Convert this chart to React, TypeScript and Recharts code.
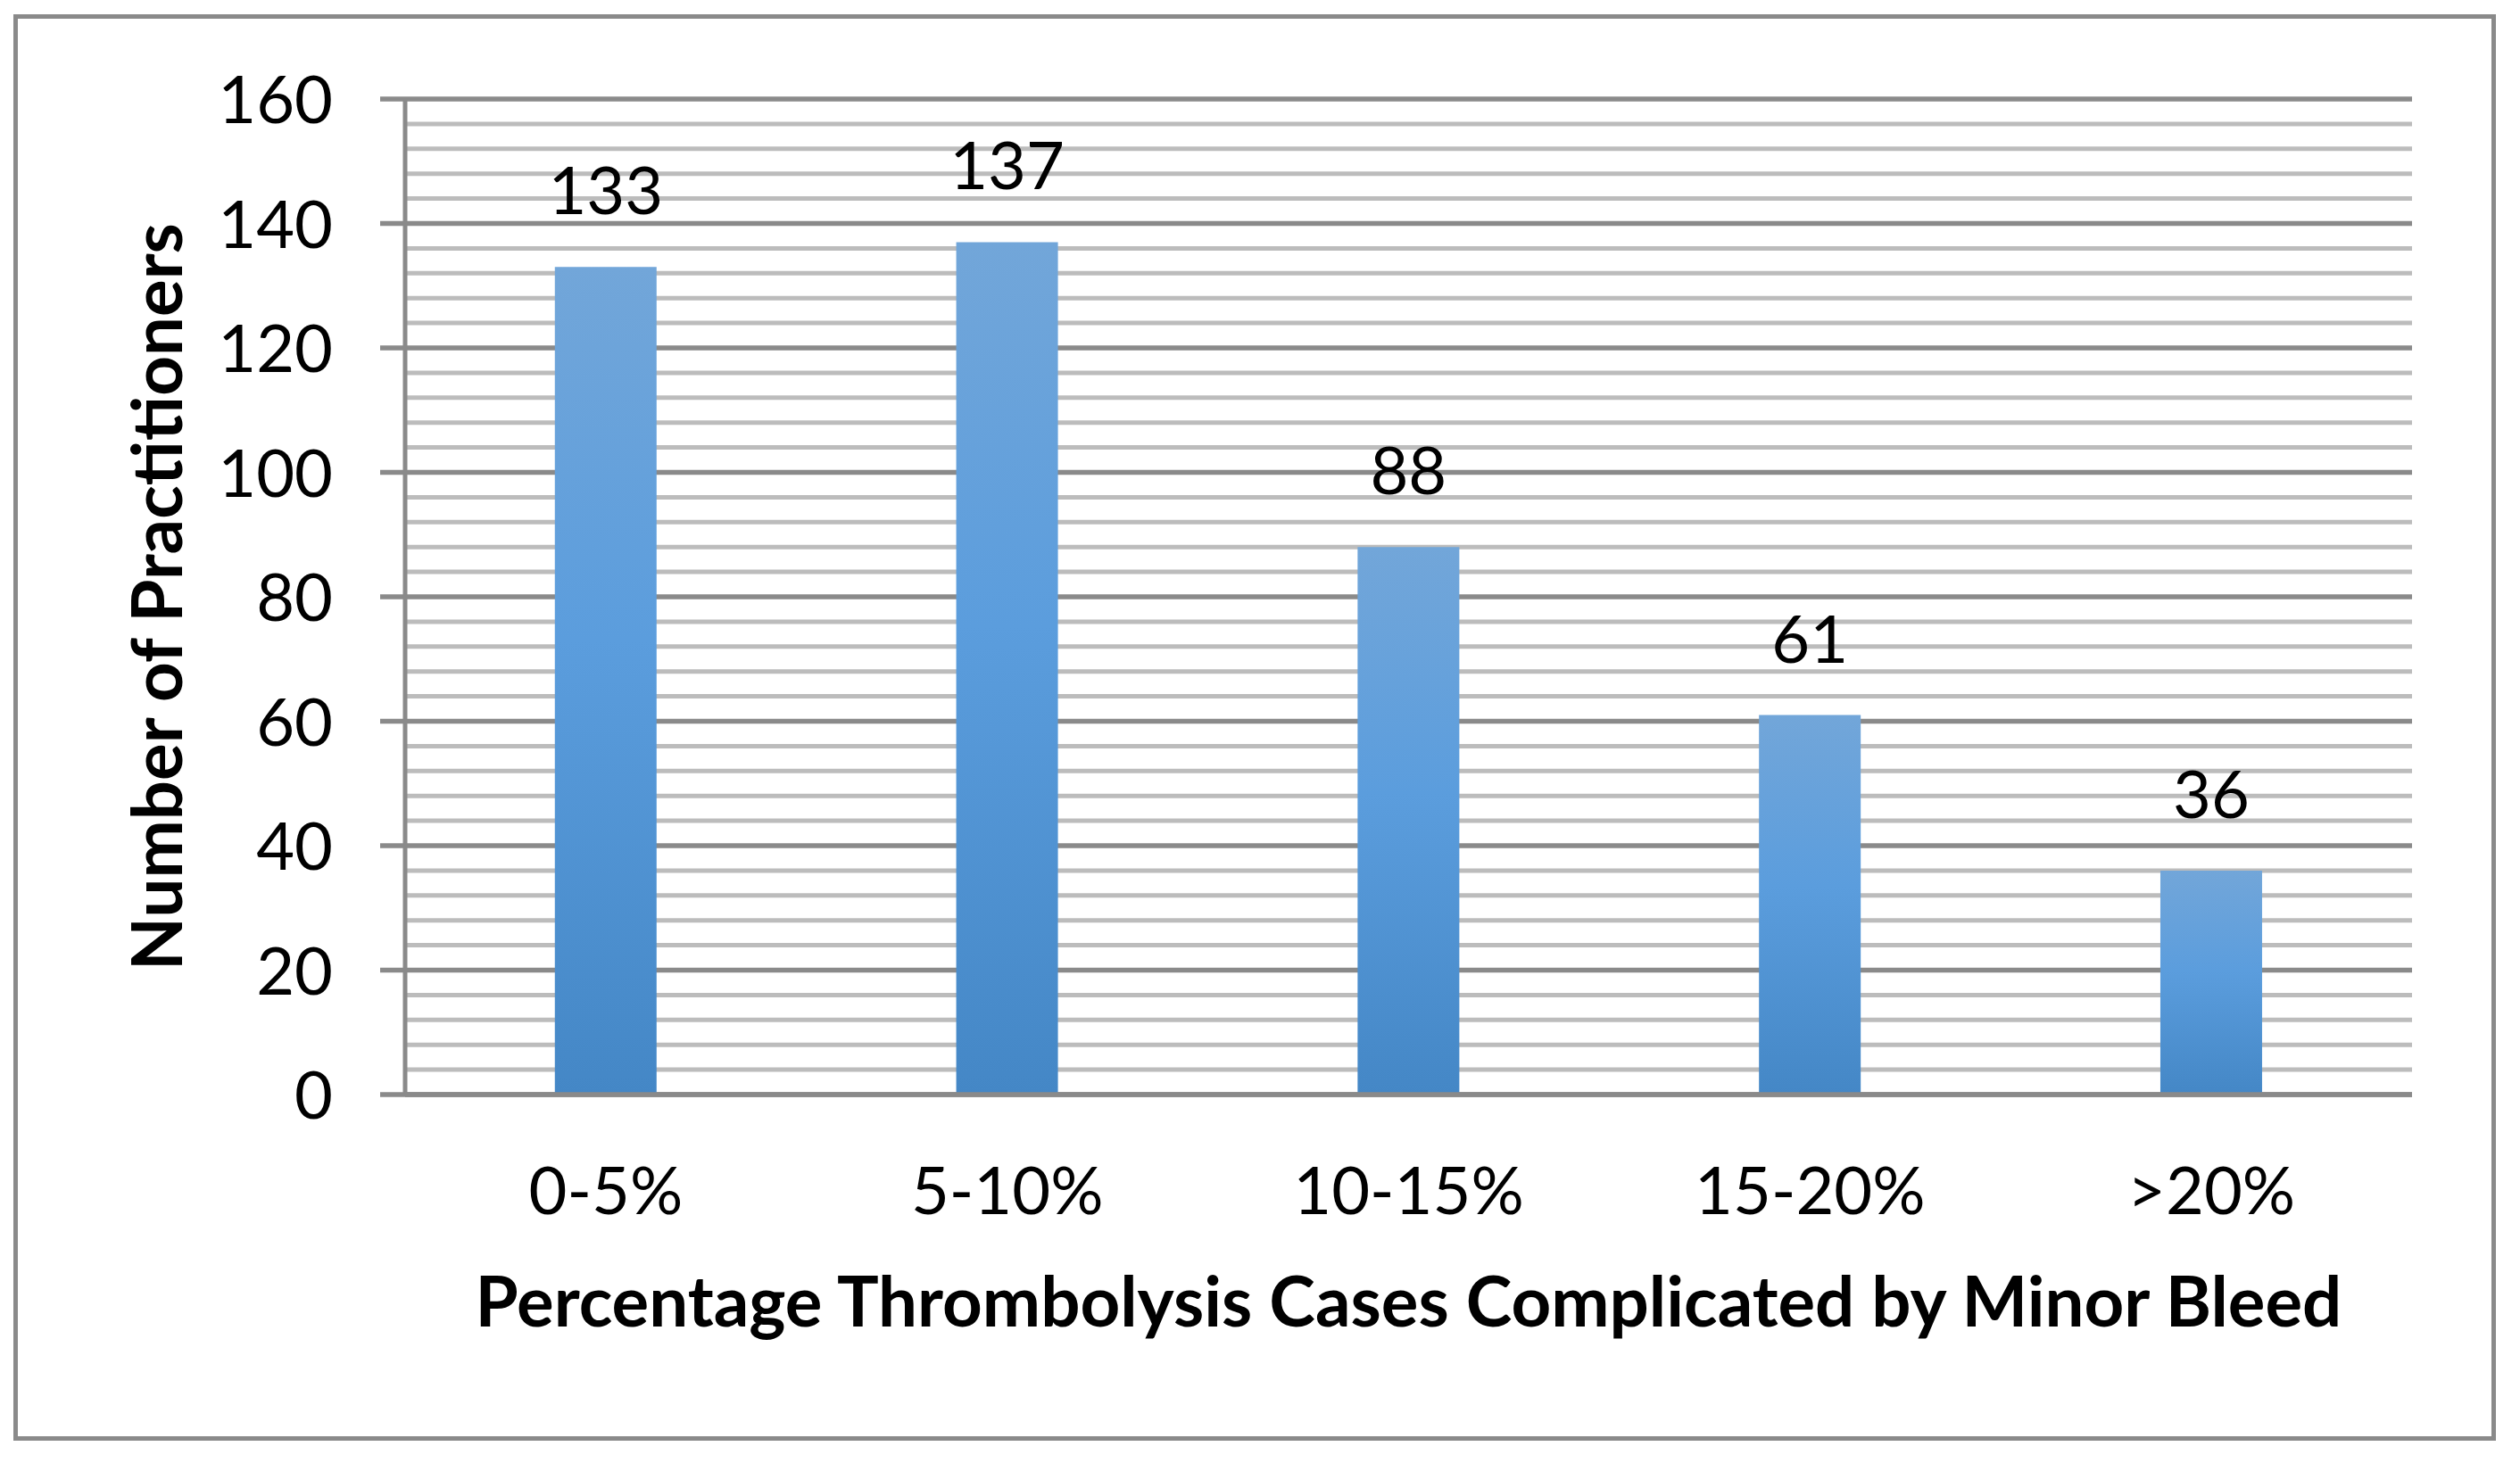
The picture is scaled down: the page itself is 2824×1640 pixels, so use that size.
import React from 'react';
import { BarChart, Bar, XAxis, YAxis, CartesianGrid, LabelList } from 'recharts';

const categories = ['0-5%', '5-10%', '10-15%', '15-20%', '>20%'];
const practitioners = [133, 137, 88, 61, 36];
const yMajorTicks = [0, 20, 40, 60, 80, 100, 120, 140, 160];
const yAllTicks = [
  0, 4, 8, 12, 16, 20, 24, 28, 32, 36, 40, 44, 48, 52, 56, 60, 64, 68, 72, 76, 80,
  84, 88, 92, 96, 100, 104, 108, 112, 116, 120, 124, 128, 132, 136, 140, 144, 148,
  152, 156, 160,
];
const xTitle = 'Percentage Thrombolysis Cases Complicated by Minor Bleed';
const yTitle = 'Number of Practitioners';

const data = categories.map((c, i) => ({ category: c, value: practitioners[i] }));

const FONT = 'Lato, "Open Sans", sans-serif';
const MAJOR = '#8a8a8a';
const MINOR = '#bcbcbc';

const YTick = (props: any) => {
  const { x, y, payload } = props;
  if (!yMajorTicks.includes(payload.value)) return null;
  return (
    <g>
      <line x1={x + 53} x2={x + 81} y1={y} y2={y} stroke={MAJOR} strokeWidth={5.5} />
      <text x={x} y={y} dy={27} textAnchor="end" fontSize={74} fontFamily={FONT} fill="#000">
        {payload.value}
      </text>
    </g>
  );
};

const XTick = (props: any) => {
  const { x, y, payload } = props;
  return (
    <text x={x} y={y} dy={53} textAnchor="middle" fontSize={74} fontFamily={FONT} fill="#000">
      {payload.value}
    </text>
  );
};

const gridLine = (props: any) => {
  const { x1, x2, y1, y2, index } = props;
  const major = index % 5 === 0;
  return (
    <line
      key={`g-${index}`}
      x1={x1}
      x2={x2}
      y1={y1}
      y2={y2}
      stroke={major ? MAJOR : MINOR}
      strokeWidth={major ? 5.5 : 5}
    />
  );
};

export default function App() {
  return (
    <div style={{ position: 'absolute', left: 0, top: 0, width: 2824, height: 1640, background: '#fff' }}>
      <div
        style={{
          position: 'absolute',
          left: 15,
          top: 16,
          width: 2782,
          height: 1599,
          border: `5.5px solid ${MAJOR}`,
          boxSizing: 'border-box',
        }}
      />
      <div style={{ position: 'absolute', left: 0, top: 0 }}>
        <BarChart
          width={2824}
          height={1640}
          data={data}
          margin={{ top: 111, right: 121, bottom: 113, left: 0 }}
          barCategoryGap="37.3%"
        >
          <defs>
            <linearGradient id="barGrad" x1="0" y1="0" x2="0" y2="1">
              <stop offset="0%" stopColor="#72a6d9" />
              <stop offset="45%" stopColor="#5b9ddd" />
              <stop offset="100%" stopColor="#4487c6" />
            </linearGradient>
          </defs>
          <CartesianGrid vertical={false} horizontal={gridLine} />
          <XAxis
            dataKey="category"
            axisLine={{ stroke: MAJOR, strokeWidth: 5.5 }}
            tickLine={false}
            tickSize={0}
            tickMargin={81}
            height={300}
            tick={<XTick />}
            interval={0}
            label={{
              value: xTitle,
              position: 'insideBottom',
              offset: 40,
              fontSize: 78,
              fontWeight: 700,
              fontFamily: FONT,
              fill: '#000',
            }}
          />
          <YAxis
            type="number"
            domain={[0, 160]}
            ticks={yAllTicks}
            interval={0}
            width={454}
            axisLine={{ stroke: MAJOR, strokeWidth: 5 }}
            tickLine={false}
            tickSize={28}
            tickMargin={53}
            tick={<YTick />}
            label={{
              value: yTitle,
              angle: -90,
              position: 'insideLeft',
              offset: 176,
              fontSize: 78,
              fontWeight: 700,
              fontFamily: FONT,
              fill: '#000',
              style: { textAnchor: 'middle' },
            }}
          />
          <Bar dataKey="value" fill="url(#barGrad)" isAnimationActive={false}>
            <LabelList
              dataKey="value"
              position="top"
              offset={59}
              fontSize={74}
              fontFamily={FONT}
              fill="#000"
            />
          </Bar>
        </BarChart>
      </div>
    </div>
  );
}
